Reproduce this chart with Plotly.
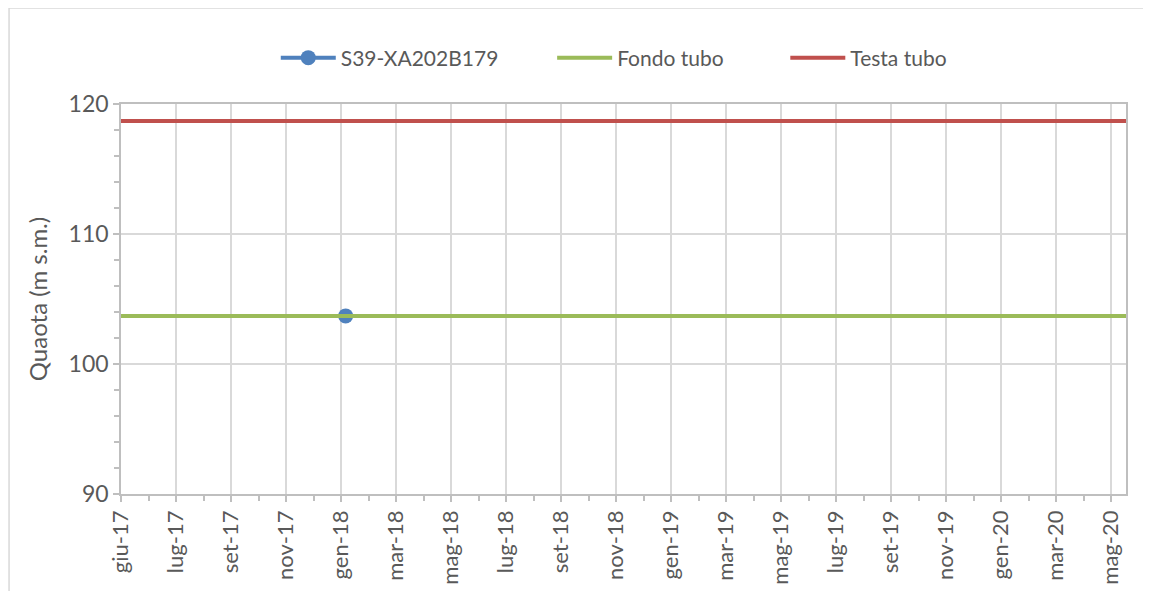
import pandas as pd
import plotly.graph_objects as go

# ---- data ----
obs_dates = ["2018-02-01"]
obs_quota = [103.7]
tube_span = ["2017-06-01", "2020-06-01"]
fondo_tubo = [103.7, 103.7]
testa_tubo = [118.7, 118.7]
mesi_it = ["gen", "feb", "mar", "apr", "mag", "giu", "lug", "ago", "set", "ott", "nov", "dic"]
tick_start = "2017-06-01"
tick_count = 19
tick_step_days = 60

tickvals = pd.date_range(start=tick_start, periods=tick_count, freq=f"{tick_step_days}D")
ticktext = [f"{mesi_it[d.month - 1]}-{d.strftime('%y')}" for d in tickvals]

FONT = "Lato"
TXT = "#595959"
GRID = "#D9D9D9"
AXIS = "#BFBFBF"
DAY_MS = 86400000

fig = go.Figure()
fig.add_trace(go.Scatter(
    x=obs_dates, y=obs_quota, name="S39-XA202B179", mode="lines+markers",
    line=dict(color="#4F81BD", width=4),
    marker=dict(color="#4F81BD", size=15), legend="legend",
))
fig.add_trace(go.Scatter(
    x=tube_span, y=fondo_tubo, name="Fondo tubo", mode="lines",
    line=dict(color="#9BBB59", width=4), legend="legend2",
))
fig.add_trace(go.Scatter(
    x=tube_span, y=testa_tubo, name="Testa tubo", mode="lines",
    line=dict(color="#C0504D", width=4), legend="legend3",
))

def leg(x):
    return dict(
        orientation="h", x=x, xanchor="left", y=1.118, yanchor="middle",
        font=dict(family=FONT, size=21, color=TXT),
        itemwidth=55, bgcolor="rgba(0,0,0,0)",
    )

fig.update_layout(
    width=1151, height=591,
    margin=dict(l=113, r=33, t=96, b=105, autoexpand=False),
    paper_bgcolor="white", plot_bgcolor="white",
    font=dict(family=FONT, color=TXT, size=22),
    showlegend=True,
    legend=leg(0.154), legend2=leg(0.429), legend3=leg(0.661),
    shapes=[dict(
        type="rect", xref="paper", yref="paper",
        x0=-0.1114, x1=1.06, y0=-0.3, y1=1.246,
        line=dict(color=GRID, width=1.5), layer="below",
    )],
)

fig.update_xaxes(
    type="date",
    range=[tube_span[0], tube_span[1]],
    tickmode="array", tickvals=tickvals, ticktext=ticktext,
    tickangle=-90,
    tickfont=dict(family=FONT, size=22, color=TXT),
    showgrid=True, gridcolor=GRID, gridwidth=1.5,
    ticks="outside", ticklen=6, tickcolor=AXIS, tickwidth=1.5,
    showline=True, linecolor=AXIS, linewidth=1.5, mirror=True,
    zeroline=False,
    minor=dict(ticks="outside", ticklen=5, tickcolor=AXIS, tickwidth=1.5,
               dtick=30 * DAY_MS, tick0=tick_start, showgrid=False),
)
fig.update_yaxes(
    range=[90, 120], dtick=10, tick0=90,
    tickfont=dict(family=FONT, size=23, color=TXT),
    showgrid=True, gridcolor=GRID, gridwidth=1.5,
    ticks="outside", ticklen=6, tickcolor=AXIS, tickwidth=1.5,
    showline=True, linecolor=AXIS, linewidth=1.5, mirror=True,
    zeroline=False,
    minor=dict(ticks="outside", ticklen=5, tickcolor=AXIS, tickwidth=1.5,
               dtick=2, showgrid=False),
    title=dict(text="Quaota (m s.m.)", font=dict(family=FONT, size=24, color=TXT), standoff=14),
)

fig.write_html("out.html")
